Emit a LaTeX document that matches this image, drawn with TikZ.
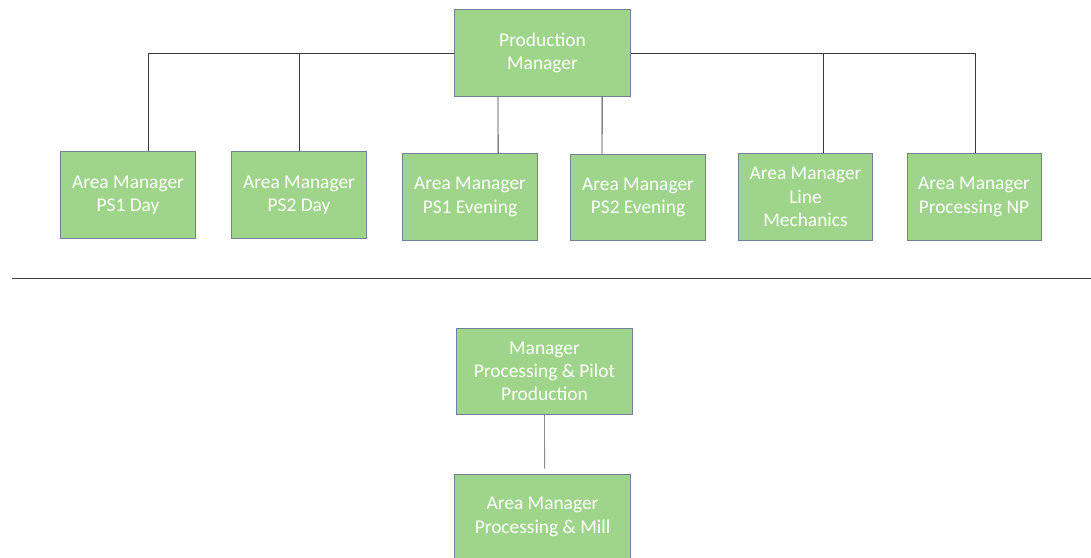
\documentclass[tikz,border=0pt]{standalone}
\usepackage{fontspec}
\setmainfont{Carlito}
\usetikzlibrary{positioning}
\definecolor{Leaf}{HTML}{9ED58A}
\definecolor{Slate}{HTML}{72819A}
\definecolor{Wire}{HTML}{3C3C3C}
\definecolor{Ash}{HTML}{8C8C8C}
\begin{document}
\begin{tikzpicture}[x=0.025cm,y=-0.025cm,
    post/.style={draw=Slate,line width=0.7pt,fill=Leaf,text=white,align=center,
      minimum width=3.35cm,minimum height=2.15cm,inner sep=2pt,
      font=\fontsize{13.8}{16.5}\selectfont},
    wide/.style={post,minimum width=4.375cm},
    wire/.style={line width=0.7pt,Wire}
  ]
    \useasboundingbox (0,0) rectangle (1091,558);
    \node[wide] (pm) at (542.5,53) {Production\\Manager};
    \foreach \x/\y/\num/\txt in {
      128/195/1/{Area Manager\\PS1 Day},
      299/195/2/{Area Manager\\PS2 Day},
      470/197/3/{Area Manager\\PS1 Evening},
      638/197.5/4/{Area Manager\\PS2 Evening},
      805.5/197/5/{Area Manager\\Line\\Mechanics},
      974/197/6/{Area Manager\\Processing NP}}{
      \node[post] (a\num) at (\x,\y) {\txt};
    }
    % top tree
    \draw[wire] (pm.west) -| ([xshift=0.5cm]a1.north);
    \draw[wire] (pm.west) -| (a2.north);
    \draw[wire] (pm.east) -| ([xshift=0.4375cm]a5.north);
    \draw[wire] (pm.east) -| ([xshift=0.025cm]a6.north);
    \draw[wire] ([xshift=-1.1125cm]pm.south) -- ([xshift=0.7cm]a3.north);
    \draw[wire] ([xshift=1.4875cm]pm.south) -- ([xshift=-0.9cm]a4.north);
    % separator
    \coordinate (sepL) at (12,278);
    \coordinate (sepR) at (1091,278);
    \draw[wire] (sepL) -- (sepR);
    % bottom tree
    \node[wide] (ppp) at (544.5,371.5) {Manager\\Processing \& Pilot\\Production};
    \node[wide] (pmill) at (542.5,517) {Area Manager\\Processing \& Mill};
    \draw[line width=0.7pt,Ash] (ppp.south) -- ([xshift=0.05cm,yshift=0.125cm]pmill.north);
  \end{tikzpicture}
\end{document}
